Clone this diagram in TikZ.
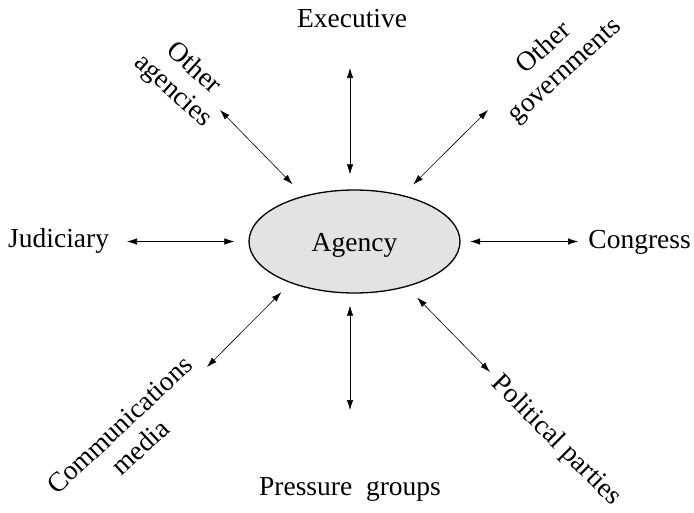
\documentclass[tikz,border=0pt]{standalone}
\usepackage{fontspec}
\setmainfont{Liberation Serif}
\usetikzlibrary{arrows.meta,shapes.geometric}
\begin{document}
\begin{tikzpicture}[x=1pt,y=-1pt,
  lbl/.style={font=\fontsize{27.5}{30.5}\selectfont, inner sep=0pt, align=center},
  arr/.style={{Latex[length=10pt,width=6.5pt]}-{Latex[length=10pt,width=6.5pt]}, line width=0.6pt},
  hub/.style={ellipse, draw, line width=1.3pt, fill=gray!22, minimum width=211pt, minimum height=103pt,
    inner sep=0pt, text height=20pt, text depth=0pt, font=\fontsize{27.5}{29}\selectfont}]
\useasboundingbox (0,0) rectangle (694,512);
\node[hub] (agency) at (354.5,241.5) {Agency};

\node[lbl, anchor=base] (exec) at (352,27) {Executive};
\node[lbl, anchor=base west] (jud) at (8,247) {Judiciary};
\node[lbl, anchor=base east] (cong) at (691,248) {Congress};
\node[lbl, anchor=base] (press) at (350,495) {Pressure\ \ groups};
\node[lbl, rotate=-42] (oag) at (183,80) {Other\\agencies};
\node[lbl, rotate=42] (ogov) at (555,60) {Other\\governments};
\node[lbl, rotate=43] (comm) at (130,436) {Communications\\media};
\node[lbl, rotate=-45] (pol) at (556,441) {Political parties};

\coordinate (exE) at (350,68);
\coordinate (prE) at (350,410);
\coordinate (juE) at (127,241.5);
\coordinate (coE) at (578,241.5);
\coordinate (oaE) at (220,110);
\coordinate (ogE) at (488,110);
\coordinate (cmE) at (207,367);
\coordinate (ppE) at (490,372);

\draw[arr, shorten <=15pt] (agency.north -| exE) -- (exE);
\draw[arr, shorten <=12pt] (agency.south -| prE) -- (prE);
\draw[arr, shorten <=14pt] (agency.west) -- (juE);
\draw[arr, shorten <=9.5pt] (agency.east) -- (coE);
\draw[arr, shorten <=16pt] (agency.138.8) -- (oaE);
\draw[arr, shorten <=15pt] (agency.44.4) -- (ogE);
\draw[arr, shorten <=12.8pt] (agency.213.6) -- (cmE);
\draw[arr, shorten <=15pt] (agency.319.3) -- (ppE);
\end{tikzpicture}
\end{document}
